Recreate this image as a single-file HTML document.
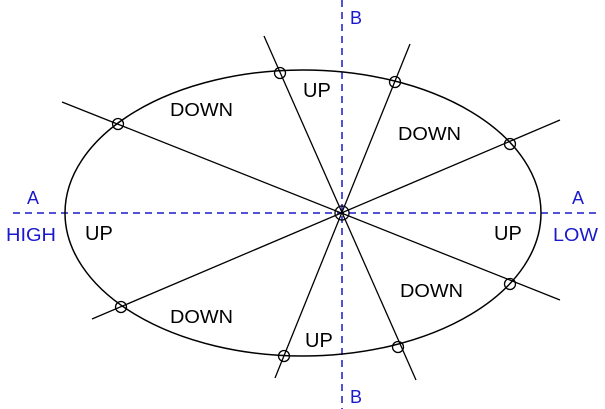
<!DOCTYPE html>
<html><head><style>body{margin:0;background:#fff}svg{display:block}</style></head><body>
<svg width="605" height="409" xmlns="http://www.w3.org/2000/svg" font-family="Liberation Sans, sans-serif">
<rect width="605" height="409" fill="#fff"/>
<g stroke="#1a1acc" stroke-width="1.5" stroke-dasharray="7,5" fill="none">
<line x1="13" y1="213" x2="598" y2="213"/>
<line x1="342" y1="0" x2="342" y2="409"/>
</g>
<ellipse cx="303" cy="213" rx="238" ry="143" fill="none" stroke="#000" stroke-width="1.5"/>
<g stroke="#000" stroke-width="1.3">
<line x1="62" y1="102" x2="560" y2="300"/>
<line x1="92" y1="319" x2="560" y2="120"/>
<line x1="264" y1="36" x2="416" y2="380"/>
<line x1="410" y1="44" x2="275" y2="378"/>
</g>
<g fill="none" stroke="#000" stroke-width="1.3">
<circle cx="118" cy="124" r="5.5"/><circle cx="510" cy="284" r="5.5"/>
<circle cx="121" cy="307" r="5.5"/><circle cx="510" cy="144" r="5.5"/>
<circle cx="280" cy="73" r="5.5"/><circle cx="398" cy="347" r="5.5"/>
<circle cx="395" cy="82" r="5.5"/><circle cx="284" cy="356" r="5.5"/>
<circle cx="342" cy="213" r="7"/>
</g>
<g fill="#1a1acc" font-size="18">
<text x="27" y="204">A</text><text x="6" y="241" textLength="50" lengthAdjust="spacingAndGlyphs">HIGH</text>
<text x="572" y="204">A</text><text x="553" y="241" textLength="45" lengthAdjust="spacingAndGlyphs">LOW</text>
<text x="350" y="24">B</text><text x="350" y="403">B</text>
</g>
<g fill="#000">
<text x="170" y="116" font-size="18" textLength="63" lengthAdjust="spacingAndGlyphs">DOWN</text>
<text x="303" y="97" font-size="20">UP</text>
<text x="398" y="140" font-size="18" textLength="63" lengthAdjust="spacingAndGlyphs">DOWN</text>
<text x="85" y="240" font-size="20">UP</text>
<text x="494" y="240" font-size="20">UP</text>
<text x="400" y="297" font-size="18" textLength="63" lengthAdjust="spacingAndGlyphs">DOWN</text>
<text x="170" y="323" font-size="18" textLength="63" lengthAdjust="spacingAndGlyphs">DOWN</text>
<text x="305" y="347" font-size="20">UP</text>
</g>
</svg>
</body></html>
